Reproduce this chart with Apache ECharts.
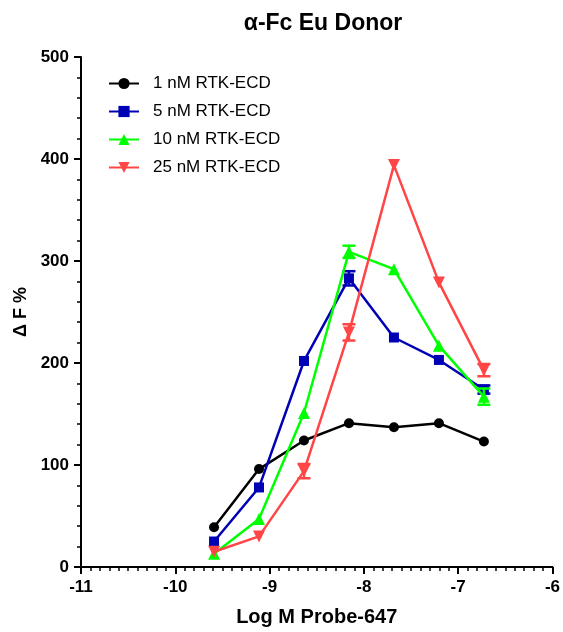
<!DOCTYPE html>
<html>
<head>
<meta charset="utf-8">
<script src="https://cdn.jsdelivr.net/npm/echarts@6/dist/echarts.min.js"></script>
<style>
  html, body { margin: 0; padding: 0; background: #ffffff; }
  #chart { width: 563px; height: 632px; }
</style>
</head>
<body>
<div id="chart"></div>
<script>
// Probe concentrations (log10 M), 3-fold dilution series
const logConc = [-9.589, -9.112, -8.635, -8.158, -7.681, -7.204, -6.727];

// Mean ΔF % per receptor concentration
const names = ['1 nM RTK-ECD', '5 nM RTK-ECD', '10 nM RTK-ECD', '25 nM RTK-ECD'];
const rtk1  = [39, 96, 124, 141, 137, 141, 123];
const rtk5  = [25, 78, 202, 283, 225, 203, 174];
const rtk10 = [13, 47, 151, 309, 292, 217, 167];
const rtk25 = [15, 30, 94, 230, 394, 279, 193];

// Error (SEM) per point
const err1  = [0, 0, 0, 0, 0, 0, 0];
const err5  = [0, 0, 0, 7, 0, 0, 4];
const err10 = [0, 0, 0, 6, 0, 0, 8];
const err25 = [0, 0, 7, 8, 0, 0, 6];

const xTicks = [-11, -10, -9, -8, -7, -6];
const yTicks = [0, 100, 200, 300, 400, 500];

const colors = ['#000000', '#0000b4', '#00ff00', '#ff4545'];
const symbols = ['circle', 'rect', 'triangle', 'path://M0,0 L10,0 L5,9 Z'];
const symbolSizes = [10, 10, 12, 12];
const means = [rtk1, rtk5, rtk10, rtk25];
const errs = [err1, err5, err10, err25];

const font = 'Arial, "Liberation Sans", sans-serif';

const series = [];
means.forEach((vals, i) => {
  series.push({
    name: names[i],
    type: 'line',
    data: logConc.map((x, k) => [x, vals[k]]),
    symbol: symbols[i],
    symbolSize: symbolSizes[i],
    showAllSymbol: true,
    itemStyle: { color: colors[i] },
    lineStyle: { color: colors[i], width: 2.5 },
    z: 3 + i
  });
  series.push({
    name: names[i],
    type: 'custom',
    data: logConc.map((x, k) => [x, vals[k] - errs[i][k], vals[k] + errs[i][k]]),
    renderItem: function (params, api) {
      const x = api.value(0);
      const lo = api.coord([x, api.value(1)]);
      const hi = api.coord([x, api.value(2)]);
      if (Math.abs(hi[1] - lo[1]) < 0.5) return null;
      const cap = 6.5;
      const st = { stroke: colors[i], lineWidth: 2.5 };
      return {
        type: 'group',
        children: [
          { type: 'line', shape: { x1: lo[0], y1: lo[1], x2: hi[0], y2: hi[1] }, style: st },
          { type: 'line', shape: { x1: lo[0] - cap, y1: lo[1], x2: lo[0] + cap, y2: lo[1] }, style: st },
          { type: 'line', shape: { x1: hi[0] - cap, y1: hi[1], x2: hi[0] + cap, y2: hi[1] }, style: st }
        ]
      };
    },
    z: 3 + i,
    silent: true
  });
});

const chart = echarts.init(document.getElementById('chart'), null, { renderer: 'canvas' });
chart.setOption({
  animation: false,
  backgroundColor: '#ffffff',
  title: {
    text: 'α-Fc Eu Donor',
    left: 318,
    textAlign: 'center',
    top: 7,
    textStyle: { fontFamily: font, fontSize: 23, fontWeight: 'bold', color: '#000' }
  },
  legend: {
    data: names,
    orient: 'vertical',
    left: 103,
    top: 70,
    itemWidth: 30,
    itemHeight: 14,
    itemGap: 11,
    textStyle: { fontFamily: font, fontSize: 17, color: '#000', padding: [0, 0, 0, 9] }
  },
  grid: { left: 81, right: 6, top: 57, bottom: 62, containLabel: false },
  xAxis: {
    type: 'value',
    min: xTicks[0],
    max: xTicks[xTicks.length - 1],
    interval: 1,
    name: 'Log M Probe-647',
    nameLocation: 'middle',
    nameGap: 40,
    nameTextStyle: { fontFamily: font, fontSize: 20, fontWeight: 'bold', color: '#000' },
    axisLine: { lineStyle: { color: '#000', width: 2 } },
    axisTick: { show: true, length: 7, lineStyle: { color: '#000', width: 2 } },
    minorTick: { show: true, splitNumber: 10, length: 4, lineStyle: { color: '#000', width: 1.5 } },
    splitLine: { show: false },
    axisLabel: { fontFamily: font, fontSize: 17, fontWeight: 'bold', color: '#000', margin: 12 }
  },
  yAxis: {
    type: 'value',
    min: yTicks[0],
    max: yTicks[yTicks.length - 1],
    interval: 100,
    name: 'Δ F %',
    nameLocation: 'middle',
    nameGap: 50,
    nameTextStyle: { fontFamily: font, fontSize: 18, fontWeight: 'bold', color: '#000' },
    axisLine: { show: true, lineStyle: { color: '#000', width: 2 } },
    axisTick: { show: true, length: 7, lineStyle: { color: '#000', width: 2 } },
    minorTick: { show: true, splitNumber: 5, length: 4, lineStyle: { color: '#000', width: 1.5 } },
    splitLine: { show: false },
    axisLabel: { fontFamily: font, fontSize: 17, fontWeight: 'bold', color: '#000', margin: 12 }
  },
  series: series
});
</script>
</body>
</html>
